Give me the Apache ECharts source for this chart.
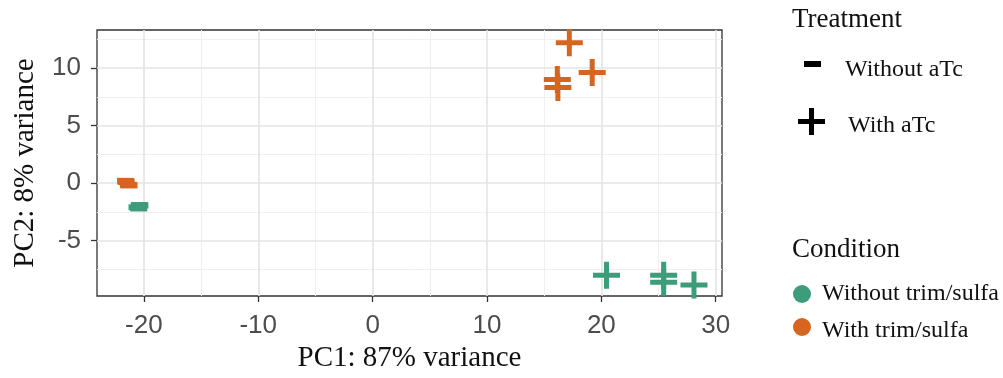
<!DOCTYPE html>
<html>
<head>
<meta charset="utf-8">
<script src="https://cdn.jsdelivr.net/npm/echarts@6/dist/echarts.min.js"></script>
<style>
  html, body { margin: 0; padding: 0; background: #ffffff; }
  #chart { width: 1003px; height: 378px; }
</style>
</head>
<body>
<div id="chart"></div>
<script>
// ---------------- data ----------------
const conditions = ['Without trim/sulfa', 'With trim/sulfa'];
const treatments = ['Without aTc', 'With aTc'];
const xTicks = [-20, -10, 0, 10, 20, 30];
const yTicks = [-5, 0, 5, 10];
const xMinorTicks = [-15, -5, 5, 15, 25];
const yMinorTicks = [-7.5, -2.5, 2.5, 7.5, 12.5];
const xRange = [-24.1, 30.55];
const yRange = [-9.8, 13.3];

// Without trim/sulfa, Without aTc
const noTS_noATc_PC1 = [-20.4, -20.35, -20.6, -20.45];
const noTS_noATc_PC2 = [-1.9, -1.95, -2.1, -2.2];
// Without trim/sulfa, With aTc
const noTS_ATc_PC1 = [20.45, 25.45, 25.45, 28.1];
const noTS_ATc_PC2 = [-8.0, -8.0, -8.6, -8.85];
// With trim/sulfa, Without aTc
const TS_noATc_PC1 = [-21.6, -21.55, -21.35, -21.3];
const TS_noATc_PC2 = [0.2, 0.1, -0.15, -0.2];
// With trim/sulfa, With aTc
const TS_ATc_PC1 = [17.2, 19.2, 16.15, 16.2];
const TS_ATc_PC2 = [12.2, 9.6, 9.0, 8.3];

const xTitle = 'PC1: 87% variance';
const yTitle = 'PC2: 8% variance';
const legendTitles = ['Treatment', 'Condition'];

// ---------------- styles ----------------
const GREEN = '#3d9d7b';
const ORANGE = '#d5651f';
const SERIF = "'Liberation Serif', 'Times New Roman', Times, serif";
const SANS = "'Liberation Sans', Arial, Helvetica, sans-serif";
const PLUS = 'path://M11,0h5v11h11v5h-11v11h-5v-11h-11v-5h11z';
// legend icons: an extra empty sub-path widens the icon box so the glyph sits a little above the label
const LEG_MINUS = 'path://M0,0h17v6h-17zM0,18h17';
const LEG_PLUS = 'path://M11,0h5v11h11v5h-11v11h-5v-11h-11v-5h11zM0,36h27';
const LEG_DOT_UP = 'path://M9,0A9,9,0,1,1,9,18A9,9,0,1,1,9,0zM0,26h18';

function zip(a, b) { return a.map((v, i) => [v, b[i]]); }

const chart = echarts.init(document.getElementById('chart'), null, { renderer: 'canvas' });

function dataSeries(name, xs, ys, color, isPlus) {
  return {
    type: 'scatter', name: name,
    xAxisIndex: 0, yAxisIndex: 0,
    data: zip(xs, ys),
    symbol: isPlus ? PLUS : 'rect',
    symbolSize: isPlus ? [27, 27] : [17, 6],
    itemStyle: { color: color, opacity: 1 },
    emphasis: { disabled: true },
    silent: true,
    z: 5
  };
}
function legendSeries(name, color) {
  return { type: 'scatter', name: name, data: [], itemStyle: { color: color, opacity: 1 } };
}

const LEG_FONT = 24;
function legendItem(name, icon, w, h, left, textCy, textLeft, color) {
  const top = h >= LEG_FONT ? textCy - h / 2 : textCy - LEG_FONT / 2;
  return {
    data: [{ name: name, icon: icon, itemStyle: { color: color, opacity: 1 } }],
    left: left, top: top, padding: 0,
    itemWidth: w, itemHeight: h,
    selectedMode: false,
    textStyle: {
      fontFamily: SERIF, fontSize: LEG_FONT, lineHeight: LEG_FONT, color: '#111',
      padding: [0, 0, 0, textLeft - left - w - 5]
    }
  };
}

const option = {
  animation: false,
  backgroundColor: '#ffffff',
  title: [
    { text: legendTitles[0], left: 792, top: 6, padding: 0,
      textStyle: { fontFamily: SERIF, fontSize: 27, lineHeight: 27, fontWeight: 'normal', color: '#111' } },
    { text: legendTitles[1], left: 792, top: 236, padding: 0,
      textStyle: { fontFamily: SERIF, fontSize: 27, lineHeight: 27, fontWeight: 'normal', color: '#111' } }
  ],
  legend: [
    legendItem(treatments[0], LEG_MINUS, 17, 18, 804, 70, 845, '#000'),
    legendItem(treatments[1], LEG_PLUS, 27, 36, 798, 126, 848, '#000'),
    legendItem(conditions[0], 'circle', 18, 18, 793, 294, 822, GREEN),
    legendItem(conditions[1], LEG_DOT_UP, 18, 26, 793, 331, 822, ORANGE)
  ],
  grid: {
    left: 97, top: 30, right: 281, bottom: 82,
    show: true, borderColor: '#333333', borderWidth: 1.3, backgroundColor: '#ffffff'
  },
  xAxis: [
    {
      type: 'value', min: xRange[0], max: xRange[1], position: 'bottom',
      name: xTitle, nameLocation: 'middle', nameGap: 47,
      nameTextStyle: { fontFamily: SERIF, fontSize: 29, color: '#111' },
      axisLine: { show: false, onZero: false },
      axisTick: { show: true, length: 6, customValues: xTicks, lineStyle: { color: '#333', width: 1.3 } },
      axisLabel: { customValues: xTicks, margin: 17, fontFamily: SANS, fontSize: 26, color: '#4d4d4d' },
      splitLine: { show: true, lineStyle: { color: '#e4e4e4', width: 1.6 } },
      z: 3
    },
    {
      type: 'value', min: xRange[0], max: xRange[1], position: 'top',
      axisLine: { show: false, onZero: false },
      axisTick: { show: false, customValues: xMinorTicks },
      axisLabel: { show: false, customValues: xMinorTicks },
      splitLine: { show: true, lineStyle: { color: '#f0f0f0', width: 1 } },
      z: 2
    }
  ],
  yAxis: [
    {
      type: 'value', min: yRange[0], max: yRange[1], position: 'left',
      name: yTitle, nameLocation: 'middle', nameGap: 57, nameRotate: 90,
      nameTextStyle: { fontFamily: SERIF, fontSize: 29, color: '#111' },
      axisLine: { show: false, onZero: false },
      axisTick: { show: true, length: 6, customValues: yTicks, lineStyle: { color: '#333', width: 1.3 } },
      axisLabel: { customValues: yTicks, margin: 16, fontFamily: SANS, fontSize: 26, color: '#4d4d4d' },
      splitLine: { show: true, lineStyle: { color: '#e4e4e4', width: 1.6 } },
      z: 3
    },
    {
      type: 'value', min: yRange[0], max: yRange[1], position: 'right',
      axisLine: { show: false, onZero: false },
      axisTick: { show: false, customValues: yMinorTicks },
      axisLabel: { show: false, customValues: yMinorTicks },
      splitLine: { show: true, lineStyle: { color: '#f0f0f0', width: 1 } },
      z: 2
    }
  ],
  series: [
    dataSeries(conditions[0] + ' / ' + treatments[0], noTS_noATc_PC1, noTS_noATc_PC2, GREEN, false),
    dataSeries(conditions[0] + ' / ' + treatments[1], noTS_ATc_PC1, noTS_ATc_PC2, GREEN, true),
    dataSeries(conditions[1] + ' / ' + treatments[0], TS_noATc_PC1, TS_noATc_PC2, ORANGE, false),
    dataSeries(conditions[1] + ' / ' + treatments[1], TS_ATc_PC1, TS_ATc_PC2, ORANGE, true),
    legendSeries(treatments[0], '#000000'),
    legendSeries(treatments[1], '#000000'),
    legendSeries(conditions[0], GREEN),
    legendSeries(conditions[1], ORANGE)
  ]
};
chart.setOption(option);
</script>
</body>
</html>
